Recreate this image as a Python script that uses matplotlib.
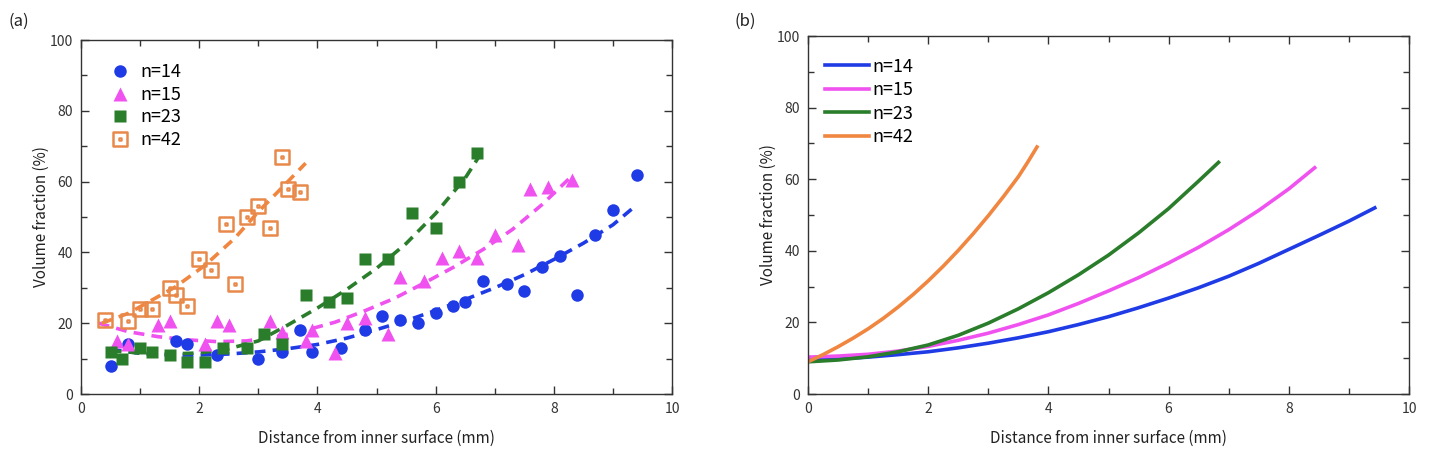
import numpy as np
import matplotlib
matplotlib.use('Agg')
from matplotlib import pyplot as plt
from matplotlib.path import Path

plt.rcParams['font.family'] = ['Noto Sans CJK JP', 'DejaVu Sans']

# (a) measured points
x14 = [0.5, 0.8, 1.6, 1.8, 2.3, 3.0, 3.4, 3.7, 3.9, 4.4, 4.8, 5.1, 5.4, 5.7, 6.0, 6.3, 6.5,
       6.8, 7.2, 7.5, 7.8, 8.1, 8.4, 8.7, 9.0, 9.4]
y14 = [8, 14, 15, 14, 11, 10, 12, 18, 12, 13, 18, 22, 21, 20, 23, 25, 26,
       32, 31, 29, 36, 39, 28, 45, 52, 62]
x15 = [0.6, 0.8, 1.3, 1.5, 2.1, 2.3, 2.5, 3.2, 3.4, 3.8, 3.9, 4.3, 4.5, 4.8, 5.2, 5.4, 5.8,
       6.1, 6.4, 6.7, 7.0, 7.4, 7.6, 7.9, 8.3]
y15 = [15, 14, 19.5, 20.5, 14, 20.5, 19.5, 20.5, 17.5, 15, 18, 11.5, 20, 21.5, 17, 33, 32,
       38.5, 40.5, 38.5, 45, 42, 58, 58.5, 60.5]
x23 = [0.5, 0.7, 1.0, 1.2, 1.5, 1.8, 2.1, 2.4, 2.8, 3.1, 3.4, 3.8, 4.2, 4.5, 4.8, 5.2, 5.6,
       6.0, 6.4, 6.7]
y23 = [12, 10, 13, 12, 11, 9, 9, 13, 13, 17, 14, 28, 26, 27, 38, 38, 51,
       47, 60, 68]
x42 = [0.4, 0.8, 1.0, 1.2, 1.5, 1.6, 1.8, 2.0, 2.2, 2.45, 2.6, 2.8, 3.0, 3.2, 3.4, 3.5, 3.7]
y42 = [21, 20.5, 24, 24, 30, 28, 25, 38, 35, 48, 31, 50, 53, 47, 67, 58, 57]

# (a) fitted trend lines
fx14 = [0.5, 1, 1.5, 2, 2.5, 3, 3.5, 4, 4.5, 5, 5.5, 6, 6.5, 7, 7.5, 8, 8.5, 9, 9.4]
fy14 = [12.6, 11.5, 11, 11, 11.3, 11.9, 12.8, 14, 15.8, 18.2, 20.7, 23.6, 26.7, 30, 33.7,
        38, 42.6, 47.8, 53.4]
fx15 = [0.3, 0.8, 1.3, 1.8, 2.3, 2.8, 3.3, 3.8, 4.3, 4.8, 5.3, 5.8, 6.3, 6.8, 7.3, 7.8, 8.3]
fy15 = [20, 17.6, 16.2, 15.3, 14.8, 15, 16.2, 18, 20.3, 23.5, 27, 31.3, 35.8, 40.8, 46.5,
        53.5, 61.5]
fx23 = [0.5, 1, 1.5, 2, 2.5, 3, 3.5, 4, 4.5, 5, 5.5, 6, 6.5, 6.75]
fy23 = [12.2, 11.6, 11.3, 11.6, 12.8, 15, 19.5, 24.3, 29.6, 35.5, 42.5, 51, 61, 67.5]
fx42 = [0.35, 0.8, 1.1, 1.6, 2.1, 2.6, 3.0, 3.4, 3.8]
fy42 = [20, 22.8, 25.6, 30.3, 36.4, 44, 51.5, 58.3, 65.2]

# (b) model curves
bx14 = [0, 0.5, 1, 1.5, 2, 2.5, 3, 3.5, 4, 4.5, 5, 5.5, 6, 6.5, 7, 7.5, 8, 8.5, 9, 9.43]
by14 = [9.5, 9.8, 10.3, 11, 11.8, 12.9, 14.2, 15.7, 17.4, 19.4, 21.6, 24.1, 26.8, 29.7,
        32.9, 36.5, 40.4, 44.3, 48.3, 52]
bx15 = [0, 0.5, 1, 1.5, 2, 2.5, 3, 3.5, 4, 4.5, 5, 5.5, 6, 6.5, 7, 7.5, 8, 8.43]
by15 = [10.3, 10.6, 11.1, 12, 13.3, 15, 17, 19.4, 22.1, 25.3, 28.8, 32.5, 36.6, 41, 45.9,
        51.3, 57.3, 63.2]
bx23 = [0, 0.5, 1, 1.5, 2, 2.5, 3, 3.5, 4, 4.5, 5, 5.5, 6, 6.5, 6.83]
by23 = [9, 9.5, 10.4, 11.8, 13.7, 16.4, 19.8, 23.8, 28.3, 33.3, 38.8, 45, 51.8, 59.5, 64.7]
bx42 = [0, 0.25, 0.5, 0.75, 1, 1.25, 1.5, 1.75, 2, 2.25, 2.5, 2.75, 3, 3.25, 3.5, 3.65, 3.81]
by42 = [9, 11, 13.2, 15.6, 18.2, 21.1, 24.3, 27.8, 31.6, 35.7, 40.1, 44.8, 49.8, 55.1,
        60.7, 64.6, 69]

labels = ['n=14', 'n=15', 'n=23', 'n=42']
c_blue = '#1f3be6'
c_mag = '#f052f0'
c_green = '#2a7d2a'
c_orange = '#f08640'

# square with a dot in the middle
sq = Path([(-1, -1), (1, -1), (1, 1), (-1, 1), (-1, -1),
           (-0.16, -0.16), (0.16, -0.16), (0.16, 0.16), (-0.16, 0.16), (-0.16, -0.16)],
          [Path.MOVETO, Path.LINETO, Path.LINETO, Path.LINETO, Path.CLOSEPOLY,
           Path.MOVETO, Path.LINETO, Path.LINETO, Path.LINETO, Path.CLOSEPOLY])

fig = plt.figure(figsize=(14.4, 4.63), dpi=100)
ax1 = fig.add_axes([0.0563, 0.149, 0.4104, 0.7646])
ax2 = fig.add_axes([0.5611, 0.149, 0.4174, 0.7732])

dash = dict(ls=(0, (3, 2)), lw=2.6)
ax1.plot(fx14, fy14, color=c_blue, **dash)
ax1.plot(fx15, fy15, color=c_mag, **dash)
ax1.plot(fx23, fy23, color=c_green, **dash)
ax1.plot(fx42, fy42, color=c_orange, **dash)

ax1.plot(x14, y14, 'o', color=c_blue, ms=9, mec='none', label=labels[0])
ax1.plot(x15, y15, '^', color=c_mag, ms=9.5, mec='none', label=labels[1])
ax1.plot(x23, y23, 's', color=c_green, ms=8, mec='none', label=labels[2])
ax1.plot(x42, y42, ls='none', marker=sq, ms=9.5, mfc='none', mec='#e8894a', mew=1.8,
         label=labels[3])

ax2.plot(bx14, by14, color=c_blue, lw=2.6, label=labels[0])
ax2.plot(bx15, by15, color=c_mag, lw=2.6, label=labels[1])
ax2.plot(bx23, by23, color=c_green, lw=2.6, label=labels[2])
ax2.plot(bx42, by42, color=c_orange, lw=2.6, label=labels[3])

for ax in (ax1, ax2):
    ax.set_xlim(0, 10)
    ax.set_ylim(0, 100)
    ax.set_xticks([0, 2, 4, 6, 8, 10])
    ax.set_xticks(np.arange(0, 11, 1), minor=True)
    ax.set_yticks([0, 20, 40, 60, 80, 100])
    ax.set_yticks(np.arange(0, 101, 10), minor=True)
    ax.tick_params(which='both', direction='in', top=True, right=True,
                   labelsize=10, colors='#333333', width=1)
    ax.tick_params(which='major', length=6, pad=6)
    ax.tick_params(which='minor', length=4)
    for s in ax.spines.values():
        s.set_color('#333333')
        s.set_linewidth(1)
    ax.set_xlabel('Distance from inner surface (mm)', fontsize=11, color='#222222',
                  labelpad=10)
    ax.set_ylabel('Volume fraction (%)', fontsize=11, color='#222222', labelpad=0)

ax1.legend(loc='upper left', bbox_to_anchor=(0.014, 0.99), frameon=False, fontsize=13,
           handlelength=1.2, handletextpad=0.5, labelspacing=0.25, borderpad=0.6)
ax2.legend(loc='upper left', bbox_to_anchor=(-0.004, 0.995), frameon=False, fontsize=13,
           handlelength=2.4, handletextpad=0.2, labelspacing=0.3, borderpad=0.6)

fig.text(0.006, 0.955, '(a)', fontsize=12, color='#222222', va='center')
fig.text(0.510, 0.955, '(b)', fontsize=12, color='#222222', va='center')

fig.savefig('out.png', dpi=100, facecolor='white')
